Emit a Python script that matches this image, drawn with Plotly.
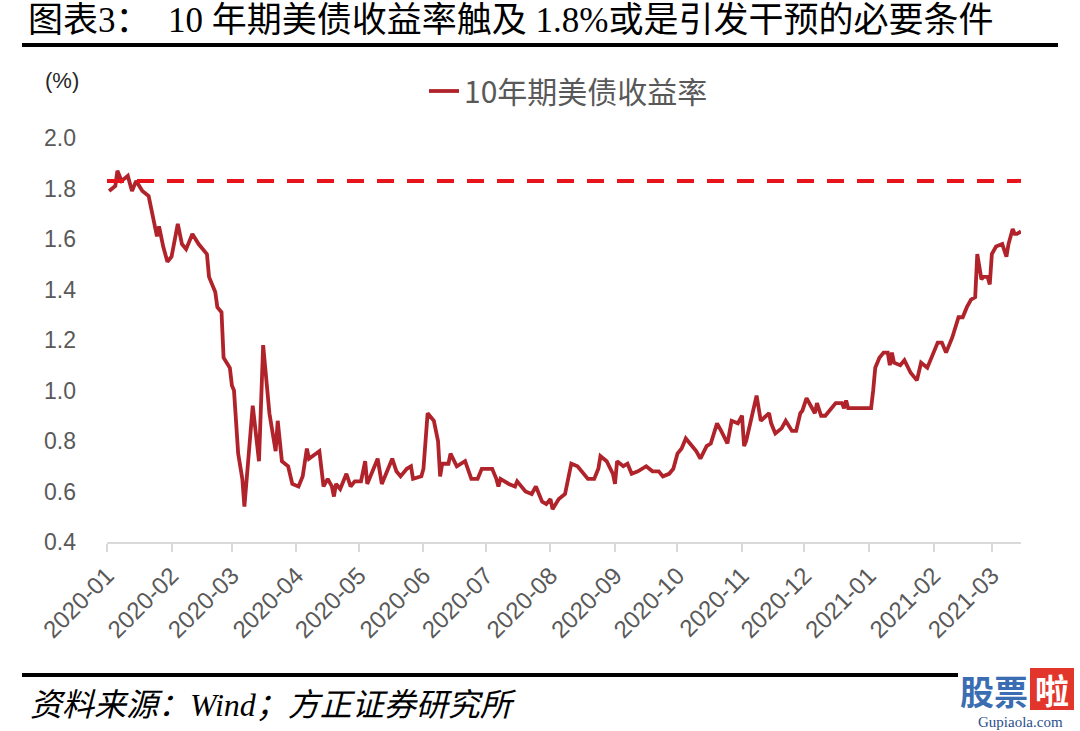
import plotly.graph_objects as go

# ---------------- data ----------------
dates = [
    "2020-01-02", "2020-01-05", "2020-01-06", "2020-01-08", "2020-01-11", "2020-01-13", "2020-01-15",
    "2020-01-18", "2020-01-21", "2020-01-23", "2020-01-25", "2020-01-26", "2020-01-28", "2020-01-30",
    "2020-02-01", "2020-02-04", "2020-02-06", "2020-02-08", "2020-02-11", "2020-02-14", "2020-02-17",
    "2020-02-18", "2020-02-19", "2020-02-22", "2020-02-23", "2020-02-25", "2020-02-26", "2020-02-29",
    "2020-03-01", "2020-03-02", "2020-03-04", "2020-03-06", "2020-03-07", "2020-03-09", "2020-03-11",
    "2020-03-14", "2020-03-16", "2020-03-19", "2020-03-22", "2020-03-23", "2020-03-25", "2020-03-28",
    "2020-03-30", "2020-04-02", "2020-04-04", "2020-04-06", "2020-04-07", "2020-04-12", "2020-04-14",
    "2020-04-16", "2020-04-18", "2020-04-19", "2020-04-20", "2020-04-22", "2020-04-25", "2020-04-27",
    "2020-04-29", "2020-05-02", "2020-05-04", "2020-05-05", "2020-05-10", "2020-05-12", "2020-05-17",
    "2020-05-19", "2020-05-21", "2020-05-24", "2020-05-26", "2020-05-27", "2020-05-31", "2020-06-01",
    "2020-06-03", "2020-06-06", "2020-06-08", "2020-06-09", "2020-06-10", "2020-06-13", "2020-06-14",
    "2020-06-17", "2020-06-21", "2020-06-24", "2020-06-27", "2020-06-29", "2020-07-04", "2020-07-06",
    "2020-07-07", "2020-07-08", "2020-07-12", "2020-07-15", "2020-07-16", "2020-07-20", "2020-07-23",
    "2020-07-25", "2020-07-28", "2020-07-30", "2020-08-01", "2020-08-02", "2020-08-05", "2020-08-08",
    "2020-08-11", "2020-08-14", "2020-08-16", "2020-08-19", "2020-08-22", "2020-08-24", "2020-08-25",
    "2020-08-28", "2020-08-31", "2020-09-01", "2020-09-02", "2020-09-05", "2020-09-07", "2020-09-09",
    "2020-09-12", "2020-09-16", "2020-09-19", "2020-09-22", "2020-09-24", "2020-09-27", "2020-09-29",
    "2020-10-01", "2020-10-03", "2020-10-05", "2020-10-07", "2020-10-10", "2020-10-12", "2020-10-15",
    "2020-10-17", "2020-10-20", "2020-10-22", "2020-10-25", "2020-10-27", "2020-10-30", "2020-11-01",
    "2020-11-02", "2020-11-03", "2020-11-08", "2020-11-10", "2020-11-14", "2020-11-15", "2020-11-17",
    "2020-11-20", "2020-11-22", "2020-11-25", "2020-11-27", "2020-11-29", "2020-11-30", "2020-12-02",
    "2020-12-05", "2020-12-06", "2020-12-07", "2020-12-09", "2020-12-11", "2020-12-14", "2020-12-16",
    "2020-12-19", "2020-12-20", "2020-12-21", "2020-12-22", "2020-12-26", "2020-12-28", "2021-01-02",
    "2021-01-03", "2021-01-04", "2021-01-06", "2021-01-08", "2021-01-10", "2021-01-11", "2021-01-12",
    "2021-01-13", "2021-01-16", "2021-01-18", "2021-01-21", "2021-01-23", "2021-01-24", "2021-01-26",
    "2021-01-29", "2021-02-01", "2021-02-03", "2021-02-05", "2021-02-07", "2021-02-10", "2021-02-13",
    "2021-02-15", "2021-02-17", "2021-02-19", "2021-02-21", "2021-02-22", "2021-02-24", "2021-02-25",
    "2021-02-27", "2021-02-28", "2021-03-01", "2021-03-03", "2021-03-06", "2021-03-08", "2021-03-09",
    "2021-03-11", "2021-03-12", "2021-03-13", "2021-03-15",
]
yield_10y = [
    1.79, 1.81, 1.87, 1.83, 1.85, 1.79, 1.83,
    1.79, 1.77, 1.69, 1.61, 1.65, 1.57, 1.51,
    1.53, 1.66, 1.58, 1.56, 1.62, 1.58, 1.55,
    1.54, 1.45, 1.39, 1.33, 1.31, 1.13, 1.09,
    1.02, 1.00, 0.75, 0.65, 0.54, 0.75, 0.94,
    0.72, 1.18, 0.91, 0.76, 0.88, 0.72, 0.70,
    0.63, 0.62, 0.66, 0.77, 0.73, 0.76, 0.62,
    0.65, 0.62, 0.58, 0.63, 0.61, 0.67, 0.62,
    0.64, 0.64, 0.72, 0.63, 0.73, 0.63, 0.73,
    0.68, 0.66, 0.69, 0.70, 0.65, 0.66, 0.69,
    0.91, 0.88, 0.80, 0.66, 0.71, 0.71, 0.75,
    0.70, 0.72, 0.65, 0.65, 0.69, 0.69, 0.65,
    0.62, 0.65, 0.63, 0.62, 0.64, 0.60, 0.59,
    0.62, 0.56, 0.55, 0.57, 0.53, 0.57, 0.59,
    0.71, 0.70, 0.68, 0.65, 0.65, 0.69, 0.74,
    0.72, 0.67, 0.63, 0.72, 0.70, 0.71, 0.67,
    0.68, 0.70, 0.68, 0.68, 0.66, 0.67, 0.69,
    0.75, 0.77, 0.81, 0.79, 0.76, 0.73, 0.78,
    0.79, 0.87, 0.84, 0.79, 0.88, 0.87, 0.90,
    0.78, 0.80, 0.98, 0.88, 0.91, 0.87, 0.83,
    0.85, 0.88, 0.84, 0.84, 0.91, 0.92, 0.97,
    0.93, 0.91, 0.95, 0.90, 0.90, 0.93, 0.95,
    0.95, 0.93, 0.96, 0.93, 0.93, 0.93, 0.93,
    1.00, 1.09, 1.13, 1.15, 1.15, 1.10, 1.15,
    1.11, 1.10, 1.12, 1.07, 1.05, 1.04, 1.11,
    1.09, 1.15, 1.19, 1.19, 1.15, 1.21, 1.29,
    1.29, 1.33, 1.36, 1.37, 1.54, 1.44, 1.45,
    1.45, 1.42, 1.54, 1.57, 1.58, 1.53, 1.58,
    1.64, 1.62, 1.62, 1.63,
]
threshold = 1.83
tick_dates = ["2020-01-01", "2020-02-01", "2020-03-01", "2020-04-01", "2020-05-01", "2020-06-01",
              "2020-07-01", "2020-08-01", "2020-09-01", "2020-10-01", "2020-11-01", "2020-12-01",
              "2021-01-01", "2021-02-01", "2021-03-01"]
tick_labels = ["2020-01", "2020-02", "2020-03", "2020-04", "2020-05", "2020-06", "2020-07",
               "2020-08", "2020-09", "2020-10", "2020-11", "2020-12", "2021-01", "2021-02", "2021-03"]
y_ticks = [0.4, 0.6, 0.8, 1.0, 1.2, 1.4, 1.6, 1.8, 2.0]
x_range = ["2020-01-01", "2021-03-15"]
series_name = "10年期美债收益率"
title_text = "图表3：\u00a0\u00a010 年期美债收益率触及 1.8%或是引发干预的必要条件"
source_text = "资料来源：Wind；方正证券研究所"

# ---------------- layout geometry (pixels) ----------------
W, H = 1080, 731
L, R, T, B = 107, 1021, 138, 542
pw, ph = R - L, B - T


def px(x):
    return (x - L) / pw


def py(y):
    return (B - y) / ph


LINE_COLOR = "#B0232A"
DASH_COLOR = "#E8141C"
GRAY = "#595959"

fig = go.Figure()
fig.add_trace(go.Scatter(
    x=dates, y=yield_10y, mode="lines", name=series_name,
    line=dict(color=LINE_COLOR, width=3.8),
))
fig.add_trace(go.Scatter(
    x=[x_range[0], x_range[1]], y=[threshold, threshold], mode="lines",
    line=dict(color=DASH_COLOR, width=4, dash="17px,13px"),
    showlegend=False, cliponaxis=False,
))

fig.update_layout(
    width=W, height=H,
    margin=dict(l=L, r=W - R, t=T, b=H - B, autoexpand=False),
    paper_bgcolor="white", plot_bgcolor="white",
    font=dict(family="Liberation Sans, Arial, Noto Sans CJK SC", color=GRAY),
    showlegend=True,
    legend=dict(
        orientation="h", x=px(424), y=py(91), xanchor="left", yanchor="middle",
        font=dict(size=30, color=GRAY, family="Noto Sans CJK SC, Liberation Sans"),
        bgcolor="rgba(0,0,0,0)", itemwidth=30,
    ),
)

fig.update_xaxes(
    type="date", range=x_range,
    tickmode="array", tickvals=tick_dates, ticktext=tick_labels,
    tickangle=-45, tickfont=dict(size=24, color=GRAY),
    showgrid=False, zeroline=False,
    showline=True, linecolor="#D9D9D9", linewidth=2,
    ticks="outside", ticklen=8, tickcolor="#D9D9D9", tickwidth=2,
    automargin=False,
)
fig.update_yaxes(
    range=[0.4, 2.0], tickmode="array", tickvals=y_ticks,
    tickformat=".1f", tickfont=dict(size=23, color=GRAY),
    showgrid=False, zeroline=False, showline=False, ticks="",
    ticklabelstandoff=30, automargin=False,
)

shapes = [
    dict(type="line", xref="paper", yref="paper", x0=px(22), x1=px(1058), y0=py(45), y1=py(45),
         line=dict(color="black", width=4)),
    dict(type="line", xref="paper", yref="paper", x0=px(22), x1=px(958), y0=py(675), y1=py(675),
         line=dict(color="black", width=4)),
    dict(type="rect", xref="paper", yref="paper", x0=px(1030), x1=px(1074), y0=py(668), y1=py(710),
         fillcolor="#E2352B", line=dict(width=0), layer="above"),
]
fig.update_layout(shapes=shapes)

annotations = [
    dict(text=title_text, xref="paper", yref="paper", x=px(26), y=py(21), xanchor="left",
         yanchor="middle", showarrow=False,
         font=dict(size=35, color="black", family="Liberation Serif, Noto Sans CJK SC")),
    dict(text="(%)", xref="paper", yref="paper", x=px(62), y=py(80), xanchor="center",
         yanchor="middle", showarrow=False, font=dict(size=22, color="#262626")),
    dict(text="<i>" + source_text + "</i>", xref="paper", yref="paper", x=px(28), y=py(705),
         xanchor="left", yanchor="middle", showarrow=False,
         font=dict(size=32, color="black", family="Liberation Serif, Noto Sans CJK SC")),
    dict(text="<b>股票</b>", xref="paper", yref="paper", x=px(1030), y=py(690), xanchor="right",
         yanchor="middle", showarrow=False,
         font=dict(size=34, color="#3B6DB3", family="Noto Sans CJK SC")),
    dict(text="<b>啦</b>", xref="paper", yref="paper", x=px(1052), y=py(689), xanchor="center",
         yanchor="middle", showarrow=False,
         font=dict(size=34, color="white", family="Noto Sans CJK SC")),
    dict(text="Gupiaola.com", xref="paper", yref="paper", x=px(1020), y=py(722), xanchor="center",
         yanchor="middle", showarrow=False,
         font=dict(size=15, color="#2B4F8C", family="Liberation Serif")),
]
fig.update_layout(annotations=annotations)

fig.write_html("out.html")
